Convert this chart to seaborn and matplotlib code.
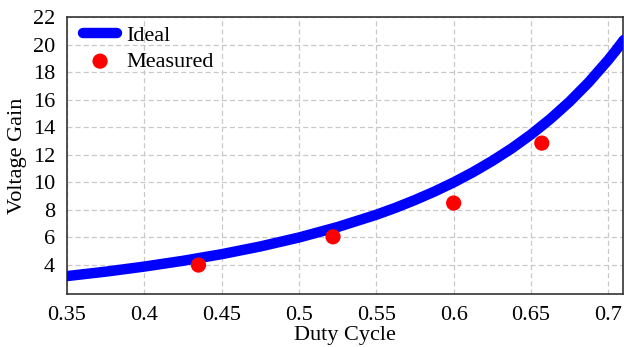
import matplotlib
matplotlib.use("Agg")
import matplotlib.pyplot as plt
import seaborn as sns
import pandas as pd

# Ideal voltage gain of the converter across duty cycle
ideal_duty = [0.35, 0.375, 0.40, 0.425, 0.45, 0.475, 0.50, 0.525, 0.55, 0.5625,
              0.575, 0.5875, 0.60, 0.6125, 0.625, 0.6375, 0.65, 0.6625, 0.675,
              0.6875, 0.70, 0.705, 0.71]
ideal_gain = [3.20, 3.52, 3.89, 4.31, 4.79, 5.35, 6.00, 6.76, 7.65, 8.16,
              8.72, 9.33, 10.00, 10.74, 11.56, 12.46, 13.47, 14.60, 15.86,
              17.28, 18.89, 19.59, 20.33]

# Measured operating points
meas_duty = [0.435, 0.522, 0.600, 0.657]
meas_gain = [4.0, 6.05, 8.5, 12.85]

x_ticks = [0.35, 0.4, 0.45, 0.5, 0.55, 0.6, 0.65, 0.7]
x_tick_labels = ["0.35", "0.4", "0.45", "0.5", "0.55", "0.6", "0.65", "0.7"]
y_ticks = [4, 6, 8, 10, 12, 14, 16, 18, 20, 22]

ideal_df = pd.DataFrame({"duty": ideal_duty, "gain": ideal_gain})
meas_df = pd.DataFrame({"duty": meas_duty, "gain": meas_gain})

sns.set_style("whitegrid", {
    "grid.color": "#c8c8c8",
    "grid.linestyle": (0, (4, 2.5)),
    "axes.edgecolor": "#333333",
})
plt.rcParams["font.family"] = ["Liberation Serif", "DejaVu Serif"]

fig, ax = plt.subplots(figsize=(6.24, 3.47), dpi=100)
fig.subplots_adjust(left=67 / 624, right=623 / 624, top=1 - 17 / 347, bottom=1 - 294 / 347)

sns.lineplot(data=ideal_df, x="duty", y="gain", ax=ax, color="#0000ff",
             linewidth=7.5, label="Ideal", solid_capstyle="round",
             solid_joinstyle="round", zorder=3)
sns.scatterplot(data=meas_df, x="duty", y="gain", ax=ax, color="#ff0000",
                s=120, edgecolor="none", label="Measured", zorder=4)

ax.set_xlim(0.35, 0.7095)
ax.set_ylim(1.9, 22)
ax.set_xticks(x_ticks)
ax.set_xticklabels(x_tick_labels)
ax.set_yticks(y_ticks)
ax.tick_params(axis="both", labelsize=16, colors="#000000")
ax.tick_params(axis="x", pad=5)
ax.tick_params(axis="y", pad=5)
ax.grid(True, linewidth=0.9)
for sp in ax.spines.values():
    sp.set_linewidth(1.2)
    sp.set_color("#333333")

ax.set_xlabel("Duty Cycle", fontsize=16, labelpad=1, color="#000000")
ax.set_ylabel("Voltage Gain", fontsize=16, labelpad=4, color="#000000")

leg = ax.legend(loc="upper left", bbox_to_anchor=(0.0165, 0.994),
                frameon=False, fontsize=16, handlelength=1.55,
                borderaxespad=0, borderpad=0.3, labelspacing=0.25,
                handletextpad=0.4)
for t in leg.get_texts():
    t.set_color("#000000")

fig.savefig("out.png", dpi=100)
